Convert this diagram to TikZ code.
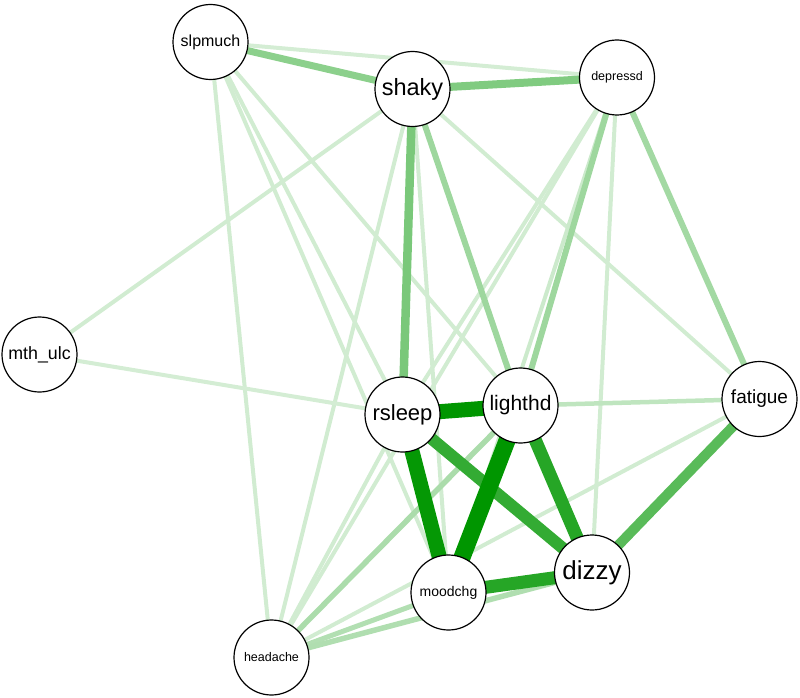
\documentclass[tikz,border=0pt]{standalone}
\usepackage{fontspec}
\setmainfont{Liberation Sans}
\pgfdeclarelayer{bg}
\pgfsetlayers{bg,main}
\definecolor{eg}{RGB}{0,150,0}
\tikzset{
  nd/.style={circle, draw=black, line width=1.2pt, fill=white, minimum size=75pt, inner sep=0pt},
  ew/.style 2 args={draw=eg!#1!white, line width=#2pt},
}
\newcommand{\fs}[1]{\fontsize{#1}{#1}\selectfont}
\begin{document}
\begin{tikzpicture}[x=1pt,y=-1pt]
\useasboundingbox (0,0) rectangle (800,698);
\node[nd, font=\fs{16}]   (slpmuch)  at (210.5,42)   {slpmuch};
\node[nd, font=\fs{23.5}] (shaky)    at (412.5,89)   {shaky};
\node[nd, font=\fs{12.5}] (depressd) at (617,77.5)   {depressd};
\node[nd, font=\fs{17.8}] (mthulc)   at (39.5,354.5) {mth\_ulc};
\node[nd, font=\fs{22}]   (rsleep)   at (402.5,414.5){rsleep};
\node[nd, font=\fs{21}]   (lighthd)  at (520.5,405.5){lighthd};
\node[nd, font=\fs{19}]   (fatigue)  at (759.5,399)  {fatigue};
\node[nd, font=\fs{14}]   (moodchg)  at (448.5,592.5){moodchg};
\node[nd, font=\fs{26}]   (dizzy)    at (592,572.5)  {dizzy};
\node[nd, font=\fs{12.5}] (headache) at (271.5,657.5){headache};
\begin{pgfonlayer}{bg}
% light edges
\draw[ew={17}{4}] (slpmuch.center) -- (depressd.center);
\draw[ew={18}{4}] (slpmuch.center) -- (headache.center);
\draw[ew={18}{4}] (slpmuch.center) -- (moodchg.center);
\draw[ew={18}{4}] (slpmuch.center) -- (rsleep.center);
\draw[ew={18}{4}] (slpmuch.center) -- (lighthd.center);
\draw[ew={18}{4}] (shaky.center) -- (mthulc.center);
\draw[ew={18}{4}] (shaky.center) -- (fatigue.center);
\draw[ew={18}{4}] (shaky.center) -- (headache.center);
\draw[ew={18}{4}] (shaky.center) -- (moodchg.center);
\draw[ew={18}{4}] (depressd.center) -- (rsleep.center);
\draw[ew={18}{4}] (depressd.center) -- (headache.center);
\draw[ew={20}{4}] (depressd.center) -- (moodchg.center);
\draw[ew={18}{4}] (depressd.center) -- (dizzy.center);
\draw[ew={17}{4}] (mthulc.center) -- (rsleep.center);
\draw[ew={18}{4}] (rsleep.center) -- (headache.center);
\draw[ew={18}{4}] (fatigue.center) -- (headache.center);
% medium edges
\draw[ew={25}{4.5}] (lighthd.center) -- (fatigue.center);
\draw[ew={30}{5}] (headache.center) -- (moodchg.center);
\draw[ew={31}{5.5}] (headache.center) -- (dizzy.center);
\draw[ew={33}{5.5}] (lighthd.center) -- (headache.center);
\draw[ew={36}{6}] (depressd.center) -- (fatigue.center);
\draw[ew={38}{6}] (depressd.center) -- (lighthd.center);
\draw[ew={38}{6}] (shaky.center) -- (lighthd.center);
\draw[ew={45}{7}] (slpmuch.center) -- (shaky.center);
\draw[ew={50}{8}] (shaky.center) -- (depressd.center);
\draw[ew={52}{8.5}] (shaky.center) -- (rsleep.center);
% strong edges
\draw[ew={65}{10}] (fatigue.center) -- (dizzy.center);
\draw[ew={80}{12}] (rsleep.center) -- (dizzy.center);
\draw[ew={85}{13}] (moodchg.center) -- (dizzy.center);
\draw[ew={85}{13}] (lighthd.center) -- (dizzy.center);
\draw[ew={98}{15}] (rsleep.center) -- (moodchg.center);
\draw[ew={100}{15}] (rsleep.center) -- (lighthd.center);
\draw[ew={100}{17}] (lighthd.center) -- (moodchg.center);
\end{pgfonlayer}
\end{tikzpicture}
\end{document}
